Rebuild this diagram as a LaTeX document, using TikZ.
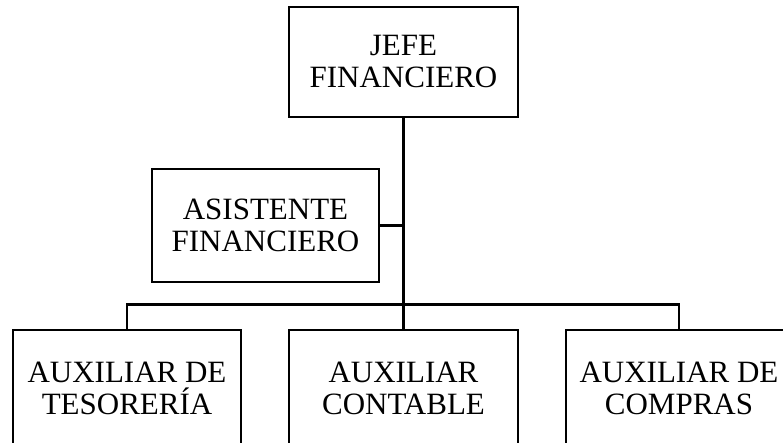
\documentclass[tikz,border=0pt]{standalone}
\usepackage{fontspec}
\setmainfont{Liberation Serif}
\begin{document}
\begin{tikzpicture}[x=1pt,y=-1pt,
  orgbox/.style={draw,line width=2.8pt,rectangle,align=center,inner sep=0pt,
    font=\fontsize{31}{32}\selectfont,minimum height=#1},
  orgbox/.default=110pt,
  link/.style={line width=2.8pt,line join=miter}]
\useasboundingbox (0,0) rectangle (783,443);
\clip (0,0) rectangle (783,443);
\node[orgbox=110pt,minimum width=229pt] (jefe) at (403.5,62) {JEFE\\FINANCIERO};
\node[orgbox=113pt,minimum width=227pt] (asis) at (265.5,225.5) {ASISTENTE\\FINANCIERO};
\node[orgbox=116pt,minimum width=228pt] (aux1) at (127,388) {AUXILIAR DE\\TESORERÍA};
\node[orgbox=116pt,minimum width=229pt] (aux2) at (403.5,388) {AUXILIAR\\CONTABLE};
\node[orgbox=116pt,minimum width=226pt] (aux3) at (679,388) {AUXILIAR DE\\COMPRAS};
\draw[link] (jefe.south) -- (aux2.north);
\draw[link] (asis.east) -- (asis.east -| jefe.south);
\draw[link] (aux1.north) -- ++(0,-24) -| (aux3.north);
\end{tikzpicture}
\end{document}
